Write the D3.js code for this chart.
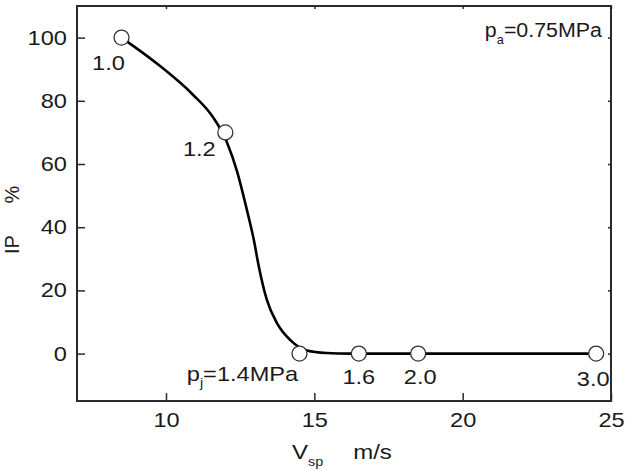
<!DOCTYPE html>
<html>
<head>
<meta charset="utf-8">
<script src="https://cdn.jsdelivr.net/npm/d3@7"></script>
<style>
    body { margin: 0; background: #fff; }
    svg { display: block; font-family: "Liberation Sans", Arial, sans-serif; }
</style>
</head>
<body>
<div id="chart"></div>
<script>
// measured points: jet speed vs. IP, labelled with the jet pressure pj (MPa)
var vsp = [8.5, 12, 14.5, 16.5, 18.5, 24.5];
var ip = [100, 70, 0, 0, 0, 0];
var pjLabels = ["1.0", "1.2", "1.4", "1.6", "2.0", "3.0"];

// fitted curve as drawn in the figure
var curveX = [8.5, 9.8, 10.9, 11.6, 12.05, 12.4, 12.7, 12.96, 13.13, 13.4, 13.75, 14.2, 14.75, 15.4, 16.2, 24.5];
var curveY = [100, 91, 82, 74.6, 67, 57.5, 46.5, 36, 27.5, 17, 9.5, 4.2, 1.0, 0.2, 0, 0];

var xTicks = [10, 15, 20, 25];
var yTicks = [0, 20, 40, 60, 80, 100];

// label offsets from each point (px): [dx, dy]
var labelOffsets = [[-13, 32], [-26, 24], [-57, 27.5], [0, 30], [2, 30], [-3, 32.5]];

var width = 627, height = 470;
var margin = {top: 6, right: 16, bottom: 69, left: 77};
var w = width - margin.left - margin.right;
var h = height - margin.top - margin.bottom;
var sx = 1.18; // the figure's text is a little wider than the font

var svg = d3.select("#chart").append("svg")
    .attr("width", width)
    .attr("height", height);
var g = svg.append("g").attr("transform", "translate(" + margin.left + "," + margin.top + ")");

var x = d3.scaleLinear().domain([7, 25]).range([0, w]);
var y = d3.scaleLinear().domain([-15, 110]).range([h, 0]);

var axisColor = "#2b2b2b";
var textColor = "#1a1a1a";

// bottom axis
var xAxis = g.append("g")
    .attr("transform", "translate(0," + h + ")")
    .call(d3.axisBottom(x).tickValues(xTicks).tickSizeInner(-8).tickSizeOuter(0).tickPadding(12));
xAxis.selectAll(".tick text")
    .attr("transform", "scale(" + sx + ",1)")
    .attr("font-size", 20)
    .attr("fill", textColor);

// left axis
var yAxis = g.append("g")
    .call(d3.axisLeft(y).tickValues(yTicks).tickSizeInner(-8).tickSizeOuter(0));
yAxis.selectAll(".tick text")
    .attr("x", -8.5)
    .attr("transform", "scale(" + sx + ",1)")
    .attr("font-size", 20)
    .attr("fill", textColor);

// small ticks on the top and right side
g.append("g")
    .call(d3.axisTop(x).tickValues(xTicks).tickSizeInner(-3).tickSizeOuter(0).tickFormat(""));
g.append("g")
    .attr("transform", "translate(" + w + ",0)")
    .call(d3.axisRight(y).tickValues(yTicks).tickSizeInner(-3).tickSizeOuter(0).tickFormat(""));

g.selectAll(".domain").remove();
g.selectAll(".tick line").attr("stroke", axisColor).attr("stroke-width", 1.5);

// frame
g.append("rect")
    .attr("width", w)
    .attr("height", h)
    .attr("fill", "none")
    .attr("stroke", axisColor)
    .attr("stroke-width", 2);

// curve
var curveData = curveX.map(function (d, i) { return [d, curveY[i]]; });
g.append("path")
    .datum(curveData)
    .attr("fill", "none")
    .attr("stroke", "#000")
    .attr("stroke-width", 2.6)
    .attr("d", d3.line()
        .x(function (d) { return x(d[0]); })
        .y(function (d) { return y(d[1]); })
        .curve(d3.curveMonotoneX));

// points
var points = vsp.map(function (d, i) { return {v: d, ip: ip[i], label: pjLabels[i], off: labelOffsets[i]}; });
g.selectAll("circle.pt")
    .data(points)
    .enter().append("circle")
    .attr("class", "pt")
    .attr("cx", function (d) { return x(d.v); })
    .attr("cy", function (d) { return y(d.ip); })
    .attr("r", 7.5)
    .attr("fill", "#fff")
    .attr("stroke", "#333")
    .attr("stroke-width", 1.3);

// point labels; the 1.4 one carries the pj name
var labels = g.selectAll("text.pl")
    .data(points)
    .enter().append("text")
    .attr("class", "pl")
    .attr("transform", function (d) {
        return "translate(" + (x(d.v) + d.off[0]) + "," + (y(d.ip) + d.off[1]) + ") scale(" + sx + ",1)";
    })
    .attr("text-anchor", "middle")
    .attr("font-size", 20)
    .attr("fill", textColor);
labels.each(function (d) {
    var t = d3.select(this);
    if (d.label === "1.4") {
        t.append("tspan").text("p");
        t.append("tspan").attr("font-size", 12).attr("dy", 6).text("j");
        t.append("tspan").attr("dy", -6).text("=" + d.label + "MPa");
    } else {
        t.text(d.label);
    }
});

// pa note in the top right corner
var pa = svg.append("text")
    .attr("transform", "translate(602,37) scale(1.07,1)")
    .attr("text-anchor", "end")
    .attr("font-size", 20)
    .attr("fill", textColor);
pa.append("tspan").text("p");
pa.append("tspan").attr("font-size", 12).attr("dy", 7).text("a");
pa.append("tspan").attr("dy", -7).text("=0.75MPa");

// x axis title
var xt = svg.append("text")
    .attr("transform", "translate(292,459) scale(1.2,1)")
    .attr("font-size", 20)
    .attr("fill", textColor);
xt.append("tspan").text("V");
xt.append("tspan").attr("font-size", 12).attr("dy", 7).text("sp");
xt.append("tspan").attr("dy", -7).attr("x", 51).text("m/s");

// y axis title
svg.append("text")
    .attr("transform", "translate(19,254) rotate(-90)")
    .attr("font-size", 20)
    .attr("fill", textColor)
    .text("IP");
svg.append("text")
    .attr("transform", "translate(19,203.5) rotate(-90)")
    .attr("font-size", 20)
    .attr("fill", textColor)
    .text("%");
</script>
</body>
</html>
